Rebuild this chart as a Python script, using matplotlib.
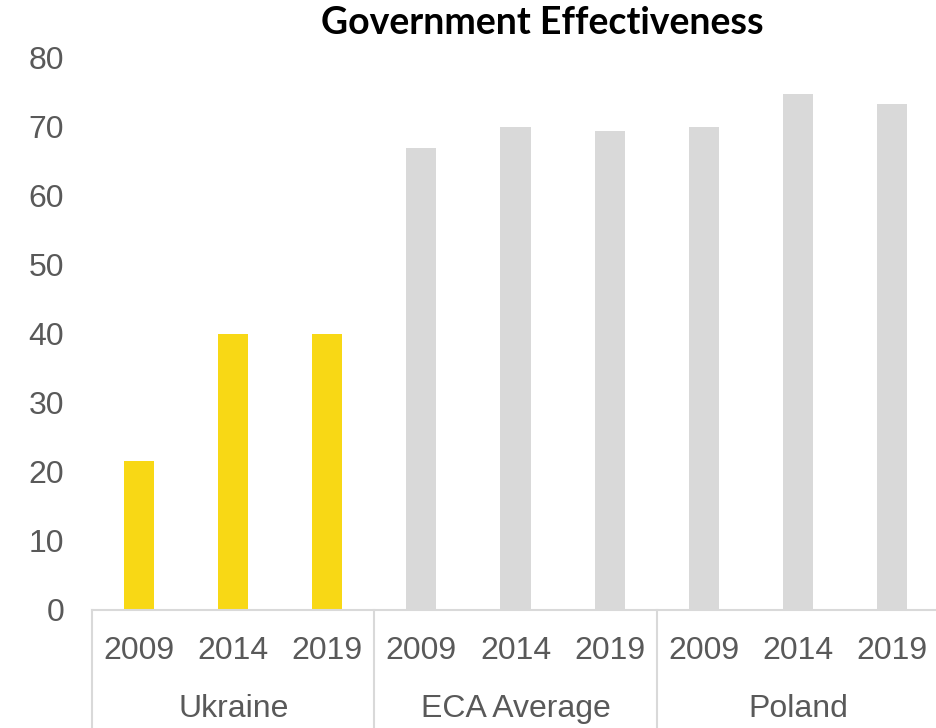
import matplotlib.pyplot as plt
import numpy as np

# Data
groups = ['Ukraine', 'ECA Average', 'Poland']
years = ['2009', '2014', '2019']
ukraine = [21.6, 39.9, 39.9]
eca_average = [66.8, 69.9, 69.3]
poland = [69.9, 74.6, 73.2]

values = ukraine + eca_average + poland
colors = ['#f8d815'] * 3 + ['#d9d9d9'] * 6
text_color = '#595959'
line_color = '#d9d9d9'

plt.rcParams['font.family'] = ['Liberation Sans', 'DejaVu Sans']

fig = plt.figure(figsize=(9.36, 7.28), dpi=100)
ax = fig.add_axes([0.0983, 0.1621, 0.905, 0.7596])

x = np.arange(len(values))
ax.bar(x, values, width=0.32, color=colors)

ax.set_xlim(-0.5, len(values) - 0.5)
ax.set_ylim(0, 80)
ax.set_yticks(range(0, 81, 10))
ax.tick_params(axis='y', length=0, pad=20, labelsize=23, labelcolor=text_color)
ax.set_xticks(x)
ax.set_xticklabels(years * len(groups))
ax.tick_params(axis='x', length=0, pad=19, labelsize=23, labelcolor=text_color)

for side in ['top', 'right', 'left']:
    ax.spines[side].set_visible(False)
ax.spines['bottom'].set_color(line_color)
ax.spines['bottom'].set_linewidth(1.5)

# Group separators and labels
bottom_frac = -(728 - 610) / 553
for b in [-0.5, 2.5, 5.5, 8.5]:
    ax.plot([b, b], [0, bottom_frac], transform=ax.get_xaxis_transform(),
            color=line_color, lw=1.5, clip_on=False)
for i, g in enumerate(groups):
    ax.text(3 * i + 1, -(709 - 610) / 553, g, transform=ax.get_xaxis_transform(),
            ha='center', va='center', fontsize=23, color=text_color)

fig.text(0.579, 0.968, 'Government Effectiveness', ha='center', va='center',
         fontsize=27, fontweight='bold', color='black', family=['Lato', 'DejaVu Sans'])

fig.savefig('out.png', dpi=100)
